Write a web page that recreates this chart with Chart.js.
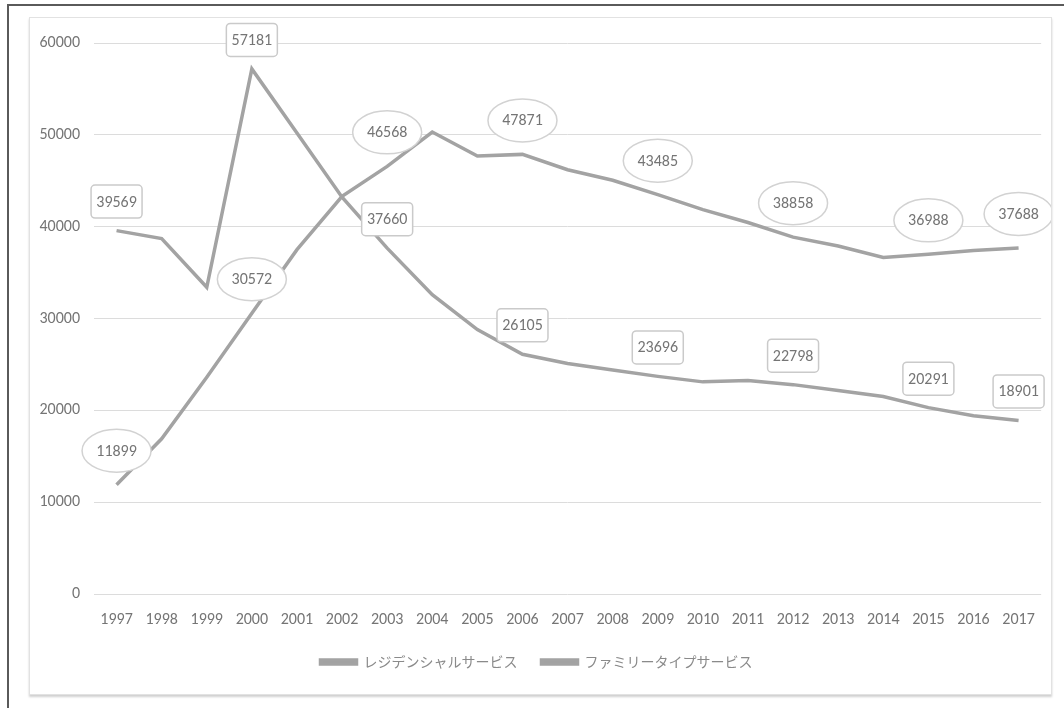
<!DOCTYPE html>
<html>
<head>
<meta charset="utf-8">
<script src="https://cdn.jsdelivr.net/npm/chart.js@4"></script>
<style>
    html, body { margin: 0; padding: 0; background: #fff; }
    body { width: 1064px; height: 708px; position: relative; overflow: hidden; }
    #frame {
        position: absolute; left: 7px; top: 4px; width: 1100px; height: 760px;
        border-left: 2px solid #5a5a5a; border-top: 2px solid #5a5a5a;
    }
    #panel {
        position: absolute; left: 29px; top: 17px; width: 1021px; height: 676px;
        border: 1px solid #e2e2e2; box-shadow: 0 2px 2px #d0d0d0; background: #fff;
    }
    #chart { position: absolute; left: 0; top: 0; }
</style>
</head>
<body>
<div id="frame"></div>
<div id="panel"><canvas id="chart" width="1021" height="676"></canvas></div>
<script>
const years = ['1997', '1998', '1999', '2000', '2001', '2002', '2003', '2004', '2005', '2006', '2007',
    '2008', '2009', '2010', '2011', '2012', '2013', '2014', '2015', '2016', '2017'];
const residential = [39569, 38700, 33400, 57181, 50200, 43200, 37660, 32600, 28800, 26105, 25100,
    24400, 23696, 23100, 23250, 22798, 22150, 21500, 20291, 19400, 18901];
const familyType = [11899, 16900, 23600, 30572, 37500, 43300, 46568, 50300, 47700, 47871, 46200,
    45050, 43485, 41850, 40450, 38858, 37900, 36650, 36988, 37400, 37688];
const seriesNames = ['レジデンシャルサービス', 'ファミリータイプサービス'];
const labelledPoints = [0, 3, 6, 9, 12, 15, 18, 20];
const yTicks = [0, 10000, 20000, 30000, 40000, 50000, 60000];

const numFont = 'Carlito, "Liberation Sans", sans-serif';
const lineGray = '#a3a3a3';
const textGray = '#757575';

// draws the value callouts: boxes for the first series, ellipses for the second
const calloutPlugin = {
    id: 'callouts',
    afterDatasetsDraw(chart) {
        const ctx = chart.ctx;
        ctx.save();
        ctx.font = '16px ' + numFont;
        ctx.textAlign = 'center';
        ctx.textBaseline = 'middle';
        chart.data.datasets.forEach((ds, di) => {
            const meta = chart.getDatasetMeta(di);
            labelledPoints.forEach(i => {
                const pt = meta.data[i];
                const text = String(ds.data[i]);
                ctx.lineWidth = 1.5;
                ctx.fillStyle = '#fff';
                if (di === 0) {
                    const w = 51, h = 33, cx = pt.x, cy = pt.y - 29;
                    ctx.strokeStyle = '#cacaca';
                    ctx.beginPath();
                    ctx.roundRect(cx - w / 2, cy - h / 2, w, h, 4);
                    ctx.fill();
                    ctx.stroke();
                    ctx.fillStyle = textGray;
                    ctx.fillText(text, cx, cy + 1);
                } else {
                    const cx = pt.x, cy = pt.y - 34;
                    ctx.strokeStyle = '#d2d2d2';
                    ctx.beginPath();
                    ctx.ellipse(cx, cy, 34.5, 21.5, 0, 0, Math.PI * 2);
                    ctx.fill();
                    ctx.stroke();
                    ctx.fillStyle = textGray;
                    ctx.fillText(text, cx, cy + 1);
                }
            });
        });
        ctx.restore();
    }
};

new Chart(document.getElementById('chart').getContext('2d'), {
    type: 'line',
    data: {
        labels: years,
        datasets: [{
            label: seriesNames[0],
            data: residential,
            borderColor: lineGray,
            backgroundColor: lineGray,
            borderWidth: 3.5,
            pointRadius: 0,
            tension: 0
        }, {
            label: seriesNames[1],
            data: familyType,
            borderColor: lineGray,
            backgroundColor: lineGray,
            borderWidth: 3.5,
            pointRadius: 0,
            tension: 0
        }]
    },
    options: {
        responsive: false,
        animation: false,
        layout: { padding: { top: 25, right: 8, bottom: 15, left: 0 } },
        scales: {
            x: {
                offset: true,
                grid: { display: false, drawTicks: false },
                border: { display: false },
                ticks: { color: textGray, font: { family: numFont, size: 16 }, padding: 16, maxRotation: 0, autoSkip: false },
                afterFit: scale => { scale.height = 37; }
            },
            y: {
                min: 0,
                max: 60000,
                afterBuildTicks: scale => { scale.ticks = yTicks.map(v => ({ value: v })); },
                grid: { color: '#dcdcdc', lineWidth: 1, drawTicks: false },
                border: { display: false },
                ticks: { color: textGray, font: { family: numFont, size: 16 }, padding: 14, callback: v => String(v) },
                afterFit: scale => { scale.width = 64; }
            }
        },
        plugins: {
            legend: {
                position: 'bottom',
                labels: {
                    boxWidth: 36,
                    boxHeight: 4,
                    padding: 24,
                    color: '#8a8a8a',
                    font: { family: '"Noto Sans CJK JP", sans-serif', size: 14 }
                }
            },
            tooltip: { enabled: false }
        }
    },
    plugins: [calloutPlugin]
});
</script>
</body>
</html>
